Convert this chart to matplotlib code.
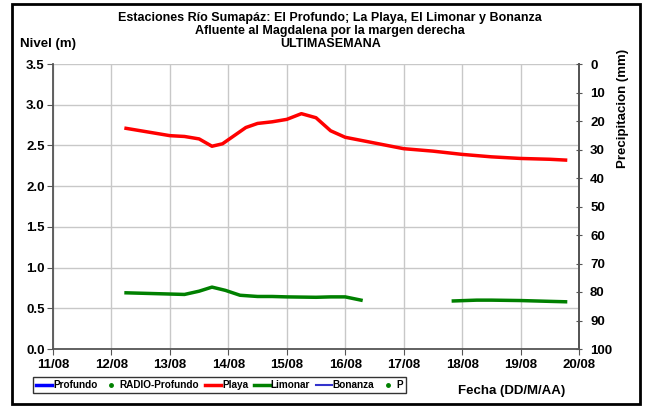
import numpy as np
import matplotlib.pyplot as plt
from matplotlib.patches import Rectangle

plt.rcParams['font.family'] = ['Liberation Sans', 'DejaVu Sans']
plt.rcParams['font.weight'] = 'bold'

# x values in days after 11/08 00:00
date_labels = ["11/08", "12/08", "13/08", "14/08", "15/08", "16/08",
               "17/08", "18/08", "19/08", "20/08"]

playa_t = [1.25, 1.5, 1.75, 2.0, 2.25, 2.5, 2.72, 2.9, 3.1, 3.3, 3.5, 3.75,
           4.0, 4.25, 4.5, 4.75, 5.0, 5.5, 6.0, 6.5, 7.0, 7.5, 8.0, 8.5, 8.77]
playa_v = [2.71, 2.68, 2.65, 2.62, 2.61, 2.58, 2.49, 2.52, 2.62, 2.72, 2.77, 2.79,
           2.82, 2.89, 2.84, 2.68, 2.60, 2.53, 2.46, 2.43, 2.39, 2.36, 2.34, 2.33, 2.32]

limonar_t = [1.25, 1.5, 1.75, 2.0, 2.25, 2.5, 2.72, 2.95, 3.2, 3.5, 3.75, 4.0,
             4.5, 4.75, 5.0, 5.27, np.nan, 6.85, 7.25, 7.5, 8.0, 8.5, 8.77]
limonar_v = [0.69, 0.685, 0.68, 0.675, 0.67, 0.71, 0.76, 0.72, 0.66, 0.645, 0.645,
             0.64, 0.635, 0.64, 0.64, 0.60, np.nan, 0.59, 0.60, 0.60, 0.595, 0.585, 0.58]

profundo_t, profundo_v = [], []
radio_t, radio_v = [], []
bonanza_t, bonanza_v = [], []
p_t, p_v = [], []

fig = plt.figure(figsize=(6.45, 4.07), dpi=100)
ax = fig.add_axes([53 / 645, 1 - 349 / 407, (579 - 53) / 645, (349 - 64) / 407])

l1, = ax.plot(profundo_t, profundo_v, color='#0000ff', lw=2.5)
l2, = ax.plot(radio_t, radio_v, 'o', color='#008000', ms=2.5)
l3, = ax.plot(playa_t, playa_v, color='#ff0000', lw=2.5)
l4, = ax.plot(limonar_t, limonar_v, color='#008000', lw=2.5)
l5, = ax.plot(bonanza_t, bonanza_v, color='#3333cc', lw=1.5)

ax.set_xlim(0, 9)
ax.set_ylim(0, 3.5)
ax.set_xticks(range(10))
ax.set_xticklabels(date_labels)
ax.set_yticks(np.arange(0, 3.51, 0.5))
ax.set_yticklabels([f"{v:.1f}" for v in np.arange(0, 3.51, 0.5)])
ax.grid(True, color='#c8c8c8', lw=1)
ax.set_axisbelow(True)
ax.spines['top'].set_visible(False)
for s in ['left', 'bottom', 'right']:
    ax.spines[s].set_color('#555555')
    ax.spines[s].set_linewidth(1.3)
ax.tick_params(axis='both', labelsize=9.5, color='#555555', length=4, pad=2)
ax.tick_params(axis='x', direction='out', pad=3)

ax2 = ax.twinx()
l6, = ax2.plot(p_t, p_v, 'o', color='#008000', ms=2.5)
ax2.set_ylim(100, 0)
ax2.set_yticks(range(0, 101, 10))
ax2.tick_params(axis='y', labelsize=9.5, color='#555555', length=4, direction='inout', pad=6)
for s in ['top', 'left', 'bottom']:
    ax2.spines[s].set_visible(False)
ax2.spines['right'].set_color('#555555')
ax2.spines['right'].set_linewidth(1.3)

fig.text(0.512, 0.955, "Estaciones Río Sumapáz: El Profundo; La Playa, El Limonar y Bonanza",
         ha='center', va='center', fontsize=9)
fig.text(0.512, 0.923, "Afluente al Magdalena por la margen derecha",
         ha='center', va='center', fontsize=9)
fig.text(0.512, 0.891, "ULTIMASEMANA", ha='center', va='center', fontsize=9)
fig.text(20 / 645, 1 - 44 / 407, "Nivel (m)", ha='left', va='center', fontsize=9.5)
fig.text(623 / 645, 1 - 108 / 407, "Precipitacion (mm)", ha='center', va='center',
         rotation=90, fontsize=9.5)
fig.text(512 / 645, 1 - 391 / 407, "Fecha (DD/M/AA)", ha='center', va='center', fontsize=9.5)

leg = fig.legend([l1, l2, l3, l4, l5, l6],
                 ["Profundo", "RADIO-Profundo", "Playa", "Limonar", "Bonanza", "P"],
                 loc='center left', bbox_to_anchor=(33 / 645, 1 - 385 / 407),
                 ncol=6, fontsize=7.2, frameon=True, fancybox=False,
                 handlelength=1.6, handletextpad=0.1, columnspacing=0.55,
                 borderpad=0.3, borderaxespad=0, edgecolor='black')
leg.get_frame().set_linewidth(1)

fig.patches.append(Rectangle((12 / 645, 3 / 407), 628 / 645, 400 / 407,
                             transform=fig.transFigure, fill=False,
                             edgecolor='black', lw=2))

fig.savefig("out.png", dpi=100)
